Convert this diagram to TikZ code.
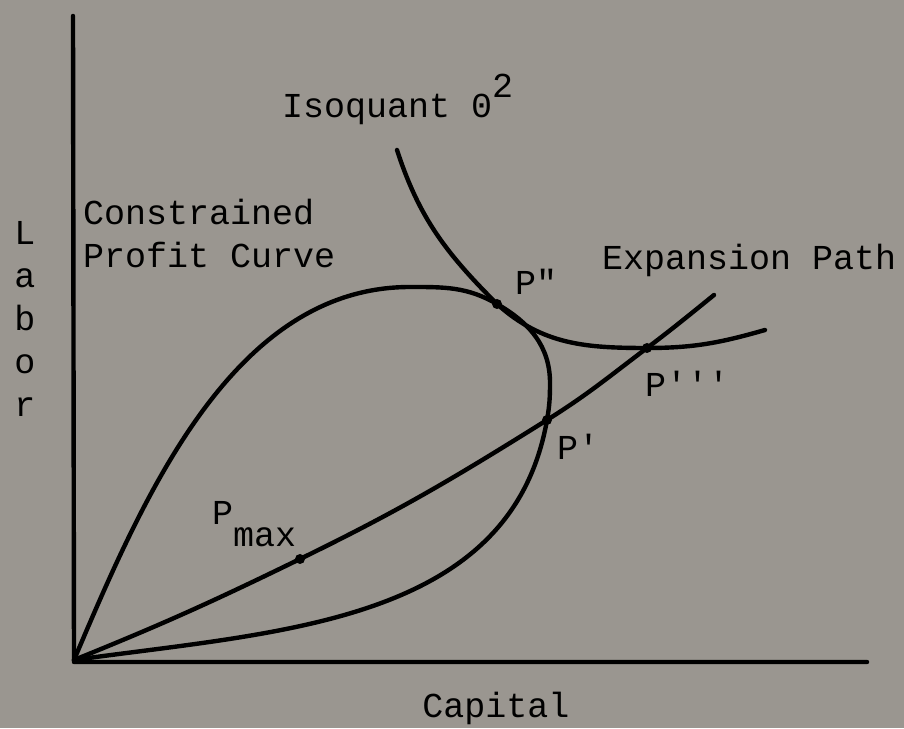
\documentclass[tikz,border=0pt]{standalone}
\usepackage{fontspec}
\setmonofont{Liberation Mono}
\definecolor{paper}{RGB}{154,150,144}
\begin{document}
\begin{tikzpicture}[x=1pt, y=1pt,
    curve/.style={line width=4.4pt, line cap=round, line join=round},
    lbl/.style={font=\fontsize{35}{43}\selectfont\ttfamily, inner sep=0pt},
    dot/.style={circle, fill=black, inner sep=0pt, minimum size=10pt}]
    \fill [paper] (0,0) rectangle (904,728);
    \useasboundingbox (0,0) rectangle (904,728);
    % key points
    \coordinate (O) at (74,68);
    \coordinate (ytop) at (73,712);
    \coordinate (xend) at (867,66);
    \coordinate (pmax) at (300,169);
    \coordinate (p1) at (547,308);
    \coordinate (p2) at (497,424);
    \coordinate (p3) at (647,380);
    \coordinate (top) at (410,441);
    \coordinate (right) at (550,345);
    \coordinate (epend) at (714,433);
    \coordinate (isostart) at (397,578);
    \coordinate (isoend) at (765,398);
    % axes
    \draw [curve] (ytop) -- (O |- xend) -- (xend);
    % constrained profit curve
    \draw [curve] (O) to[out=67, in=180, looseness=0.9] (top)
        to[out=0, in=150] (p2) to[out=-30, in=90] (right)
        to[out=-90, in=80] (p1) to[out=-100, in=8] (O);
    % isoquant
    \draw [curve] (isostart) to[out=-72, in=135] (p2)
        to[out=-42, in=180] (p3) to[out=0, in=196] (isoend);
    % expansion path
    \draw [curve] (O) to[out=22, in=206] (pmax) to[out=26, in=212] (p1)
        to[out=32, in=217] (p3) to[out=37, in=219] (epend);
    \foreach \p in {pmax, p1, p2, p3}
        \node [dot] at (\p) {};
    % labels
    \node [lbl, anchor=base west] (isolbl) at (282,610) {Isoquant 0\raisebox{20pt}{2}};
    \node [lbl, anchor=base west, align=left] (cpc) at (83,460) {Constrained\\Profit Curve};
    \node [lbl, anchor=base west] (eplbl) at (602,458) {Expansion Path};
    \node [lbl, anchor=base, align=center] (labor) at (25,311) {L\\a\\b\\o\\r};
    \node [lbl, anchor=base] (capital) at (496,11) {Capital};
    \node [lbl, anchor=base west] (p2lbl) at (515,433) {P\textquotedbl};
    \node [lbl, anchor=base west] (p3lbl) at (645,331) {P\textquotesingle\textquotesingle\textquotesingle};
    \node [lbl, anchor=base west] (p1lbl) at (557,268) {P\textquotesingle};
    \node [lbl, anchor=base west] (pmaxlbl) at (212,203) {P\raisebox{-22pt}{max}};
\end{tikzpicture}
\end{document}
